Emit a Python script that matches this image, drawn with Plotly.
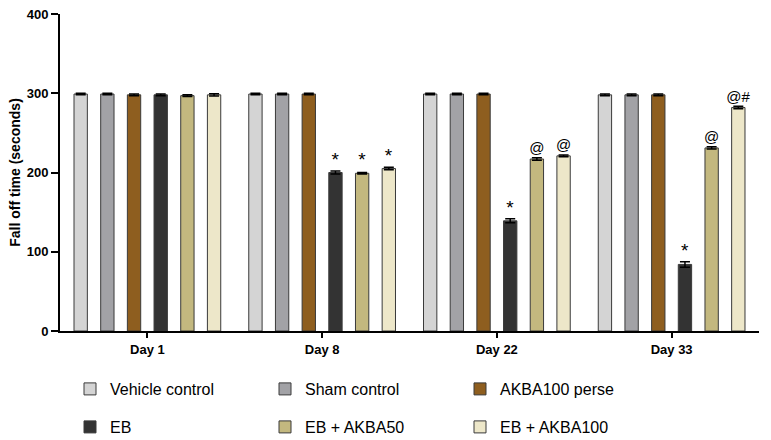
import plotly.graph_objects as go

days = ["Day 1", "Day 8", "Day 22", "Day 33"]
groups = ["Vehicle control", "Sham control", "AKBA100 perse",
          "EB", "EB + AKBA50", "EB + AKBA100"]

vehicle = [299, 299, 299, 298]
sham = [299, 299, 299, 298]
akba_perse = [298, 299, 299, 298]
eb = [298, 200, 139, 84]
eb_akba50 = [297, 199, 217, 231]
eb_akba100 = [298, 205, 221, 282]

err_vehicle = [1, 1, 1, 1]
err_sham = [1, 1, 1, 1]
err_akba_perse = [1, 1, 1, 1]
err_eb = [1, 2, 2.5, 3.5]
err_eb_akba50 = [1, 1, 1.5, 1.5]
err_eb_akba100 = [1.5, 1.5, 1, 1.5]

sig_vehicle = ["", "", "", ""]
sig_sham = ["", "", "", ""]
sig_akba_perse = ["", "", "", ""]
sig_eb = ["", "*", "*", "*"]
sig_eb_akba50 = ["", "*", "@", "@"]
sig_eb_akba100 = ["", "*", "@", "@#"]

colors = ["#D4D4D4", "#A2A2A6", "#8E5E1F", "#333333", "#C3B87F", "#EDE7C9"]
values = [vehicle, sham, akba_perse, eb, eb_akba50, eb_akba100]
errors = [err_vehicle, err_sham, err_akba_perse, err_eb, err_eb_akba50, err_eb_akba100]
sigs = [sig_vehicle, sig_sham, sig_akba_perse, sig_eb, sig_eb_akba50, sig_eb_akba100]

fig = go.Figure()
for i, (name, vals, errs, sg, col) in enumerate(zip(groups, values, errors, sigs, colors)):
    sizes = [19 if s == "*" else 15 for s in sg]
    fig.add_trace(go.Bar(
        x=days, y=vals, name=name,
        marker=dict(color=col, line=dict(color="#3a3a3a", width=1)),
        error_y=dict(type="data", array=errs, visible=True, color="#000000",
                     thickness=1.5, width=5),
        text=sg, textposition="outside", constraintext="none",
        textfont=dict(family="Arial, Liberation Sans, sans-serif", size=sizes, color="#000000"),
        cliponaxis=False,
        legend="legend" if i < 3 else "legend2",
    ))

legend_common = dict(
    orientation="h", xref="container", yref="container",
    xanchor="left", yanchor="middle",
    entrywidth=150, entrywidthmode="pixels",
    font=dict(family="Arial, Liberation Sans, sans-serif", size=16, color="#000000"),
    bgcolor="rgba(0,0,0,0)", itemclick=False,
)

fig.update_layout(
    width=771, height=440,
    margin=dict(l=60, r=12, t=14, b=109, autoexpand=False),
    paper_bgcolor="white", plot_bgcolor="white",
    barmode="group", bargap=0.084, bargroupgap=0.5,
    font=dict(family="Arial, Liberation Sans, sans-serif", color="#000000"),
    showlegend=True,
    legend=dict(x=70 / 771, y=1 - 389 / 440, **legend_common),
    legend2=dict(x=70 / 771, y=1 - 427 / 440, **legend_common),
    xaxis=dict(
        showline=True, linecolor="#000000", linewidth=2,
        ticks="outside", ticklen=5, tickwidth=1.5, tickcolor="#000000",
        tickfont=dict(family="Arial, Liberation Sans, sans-serif", size=13, color="#000000", weight="bold"),
        showgrid=False, zeroline=False,
    ),
    yaxis=dict(
        range=[0, 400], tickvals=[0, 100, 200, 300, 400],
        showline=True, linecolor="#000000", linewidth=2,
        ticks="outside", ticklen=7, tickwidth=2, tickcolor="#000000",
        tickfont=dict(family="Arial, Liberation Sans, sans-serif", size=13, color="#000000", weight="bold"),
        title=dict(text="Fall off time (seconds)", standoff=3,
                   font=dict(family="Arial, Liberation Sans, sans-serif", size=14, color="#000000", weight="bold")),
        showgrid=False, zeroline=False,
    ),
)

fig.write_html("out.html", config={"displayModeBar": False},
               post_script="document.body.style.margin='0';")
